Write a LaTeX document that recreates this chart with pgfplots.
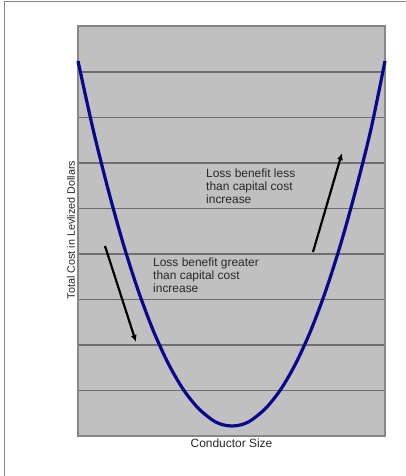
\documentclass[border=0pt]{standalone}
\usepackage{pgfplots}
\pgfplotsset{compat=1.18}
\usetikzlibrary{arrows.meta}
\usepackage{fontspec}
\setmainfont{Liberation Sans}
\definecolor{bgray}{RGB}{192,192,192}
\definecolor{gridc}{RGB}{110,110,110}
\definecolor{framec}{RGB}{135,135,135}
\definecolor{curvec}{RGB}{8,8,140}
\definecolor{txt}{RGB}{40,40,40}
\begin{document}
\begin{tikzpicture}
\useasboundingbox (0,0) rectangle (406bp,476bp);
\fill[white] (0,0) rectangle (406bp,476bp);
\draw[framec, line width=1.5bp] (4.5bp,0) -- (4.5bp,474.5bp) -- (406bp,474.5bp);
\begin{axis}[
  at={(78bp,40bp)}, anchor=south west,
  scale only axis, width=307bp, height=410bp,
  xmin=78, xmax=385, ymin=0, ymax=410,
  xtick=\empty,
  ytick={45.5,91,136.5,182,227.5,273,318.5,364},
  yticklabels={},
  major tick length=0pt,
  ymajorgrids,
  grid style={gridc, line width=1.2bp},
  axis line style={framec, line width=1.5bp},
  axis background/.style={fill=bgray},
  clip=false,
]
\addplot[curvec, line width=3.2bp, smooth] coordinates {
(78,375) (93,307) (108,247) (123,193) (138,146) (153,106) (168,73) (183,47)
(198,28) (213,15.6) (223,11.2) (232,10) (241,11.2) (251,15.6) (266,28)
(281,47) (296,73) (311,106) (326,146) (341,193) (356,247) (371,307) (385,375)
};
\draw[-{Latex[length=7bp,width=6bp]}, black, line width=2.2bp] (axis cs:105,190) -- (axis cs:136,94);
\draw[-{Latex[length=7bp,width=6bp]}, black, line width=2.2bp] (axis cs:313,184) -- (axis cs:342,283);
\node[anchor=north west, align=left, text=txt, font=\fontsize{12}{13}\selectfont, inner sep=0pt] at (axis cs:206,267) {Loss benefit less\\than capital cost\\increase};
\node[anchor=north west, align=left, text=txt, font=\fontsize{12}{13}\selectfont, inner sep=0pt] at (axis cs:153,178) {Loss benefit greater\\than capital cost\\increase};
\node[text=txt, font=\fontsize{12}{13}\selectfont] at (axis cs:231.5,-7) {Conductor Size};
\node[text=txt, rotate=90, font=\fontsize{10.8}{12}\selectfont] at (axis cs:71,206) {Total Cost in Levlized Dollars};
\end{axis}
\end{tikzpicture}
\end{document}
